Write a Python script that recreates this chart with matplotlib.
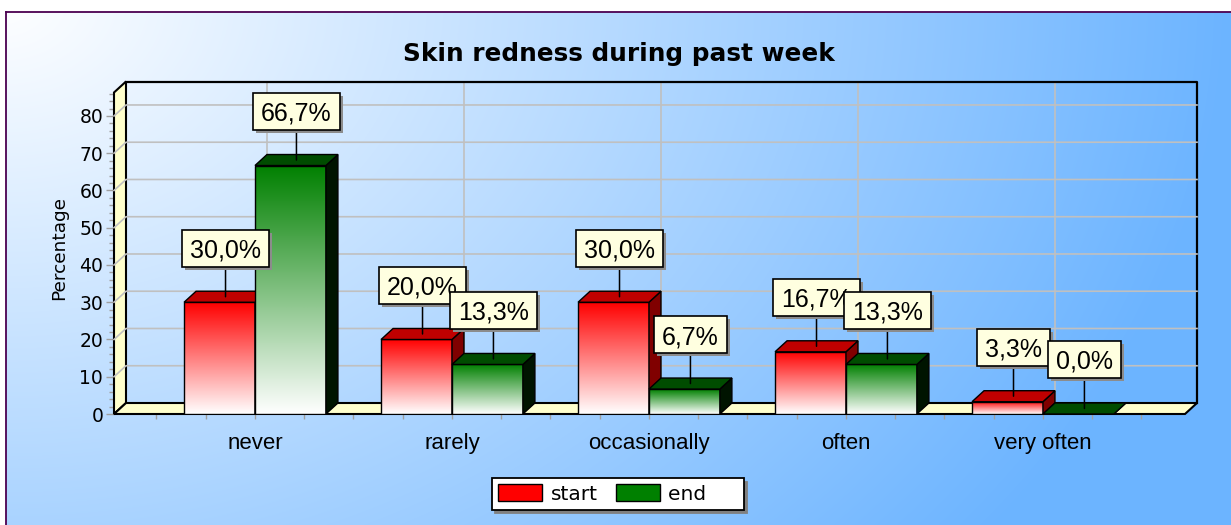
import numpy as np
import matplotlib
matplotlib.use("Agg")
import matplotlib.pyplot as plt
from matplotlib.patches import Polygon, Rectangle, Patch
from matplotlib.lines import Line2D
from matplotlib.path import Path
from matplotlib.transforms import Affine2D
from matplotlib.colors import to_rgb
import matplotlib.patheffects as pe

# ---------------- data ----------------
categories = ["never", "rarely", "occasionally", "often", "very often"]
series_names = ["start", "end"]
start_values = [30.0, 20.0, 30.0, 16.7, 3.3]
end_values = [66.7, 13.3, 6.7, 13.3, 0.0]
y_ticks = [0, 10, 20, 30, 40, 50, 60, 70, 80]
title = "Skin redness during past week"
y_label = "Percentage"

# ---------------- style ----------------
W, H = 1231, 525
front_colors = ["#ff0000", "#008000"]
top_colors = ["#c00000", "#004c00"]
side_colors = ["#800000", "#001400"]
wall_color = "#ffffcc"
grid_color = "#c0c0c0"
tick_color = "#a0a0a0"
label_fill = "#ffffe0"
shadow_col = "#8c8c8c"
narrow = ["Liberation Sans Narrow", "Liberation Sans", "DejaVu Sans"]

fig = plt.figure(figsize=(W / 100, H / 100), dpi=100, facecolor="white")

# background gradient
bg = fig.add_axes([6 / W, 0, (W - 6) / W, (H - 12) / H], zorder=-10)
gx = np.arange(6, W)[None, :]
gy = np.arange(12, H)[:, None]
t = np.clip(np.sqrt((gx / 1230.0) ** 2 + (gy / 900.0) ** 2), 0, 1)
c0 = np.array([1.0, 1.0, 1.0])
c1 = np.array([108, 180, 255]) / 255.0
grad = (1 - t)[..., None] * c0 + t[..., None] * c1
bg.imshow(grad, extent=(0, 1, 0, 1), aspect="auto", origin="upper", interpolation="bilinear")
bg.axis("off")
fig.add_artist(Line2D([6 / W, 6 / W], [0, (H - 12) / H], transform=fig.transFigure, color="#4b0050", lw=1.3))
fig.add_artist(Line2D([6 / W, 1], [(H - 12) / H, (H - 12) / H], transform=fig.transFigure, color="#4b0050", lw=1.3))

# main axes (front plane)
ax_left, ax_right, ax_bottom, ax_top = 114, 1185, 414, 92.5
ax = fig.add_axes([ax_left / W, (H - ax_bottom) / H, (ax_right - ax_left) / W, (ax_bottom - ax_top) / H])
xl, xr = -0.7157, 4.721
yb, yt = 0.0, 86.3
ax.set_xlim(xl, xr)
ax.set_ylim(yb, yt)
ax.set_autoscale_on(False)
ax.patch.set_visible(False)
for s in ax.spines.values():
    s.set_visible(False)

# depth offset (12 px right, 11 px up) in data units
inv = ax.transData.inverted()
p0 = inv.transform((0, 0))
p1 = inv.transform((12, 11))
ddx, ddy = p1[0] - p0[0], p1[1] - p0[1]

# walls and floor
ax.add_patch(Polygon([(xl, 0), (xl + ddx, ddy), (xl + ddx, yt + ddy), (xl, yt)], closed=True,
                     fc=wall_color, ec="black", lw=1.5, zorder=2, clip_on=False))
ax.add_patch(Polygon([(xl, 0), (xr, 0), (xr + ddx, ddy), (xl + ddx, ddy)], closed=True,
                     fc=wall_color, ec="black", lw=1.5, zorder=2, clip_on=False))
ax.plot([xl + ddx, xr + ddx, xr + ddx], [yt + ddy, yt + ddy, ddy], color="black", lw=1.6,
        zorder=2.2, clip_on=False, solid_capstyle="projecting")

# gridlines
for v in y_ticks[1:]:
    ax.plot([xl, xl + ddx, xr + ddx], [v, v + ddy, v + ddy], color=grid_color, lw=1.2, zorder=3, clip_on=False)
for i in range(len(categories)):
    ax.plot([i + ddx, i + ddx], [ddy, yt + ddy], color=grid_color, lw=1.2, zorder=1.5, clip_on=False)

# ticks
ax.set_yticks(y_ticks)
ax.set_yticks(np.arange(0, 87, 2), minor=True)
ax.tick_params(axis="y", which="major", length=5.8, width=1, color=tick_color, labelsize=13.5, pad=2)
ax.tick_params(axis="y", which="minor", length=3.6, width=1, color=tick_color)
ax.set_xticks(range(len(categories)))
ax.set_xticklabels(categories, family=narrow[1:], fontsize=16)
ax.set_xticks(np.arange(-0.5, 4.51, 0.25), minor=True)
ax.tick_params(axis="x", which="both", length=3.6, width=1, color=tick_color, pad=10)
ax.text(-0.0514, 0.516, y_label, transform=ax.transAxes, rotation=90, ha="center", va="center",
        fontsize=13.3)

fig.text(619 / W, 1 - 61 / H, title, ha="center", va="baseline", fontsize=17.8, fontweight="bold")


def label_box(x0, y0, width, height, mutation_size):
    padx, half = 8.0, 18.5
    cy = y0 + height / 2.0 + 2.2
    verts = [(x0 - padx, cy - half), (x0 + width + padx, cy - half),
             (x0 + width + padx, cy + half), (x0 - padx, cy + half), (x0 - padx, cy - half)]
    return Path(verts, closed=True)


bar_w = 0.36
series = [start_values, end_values]
z = 5
lz = 50
label_size = 18
leader_tr = ax.transData + Affine2D().translate(6, 5.5)
box_shadow = [pe.SimplePatchShadow(offset=(2.2, -2.2), shadow_rgbFace=shadow_col, alpha=1.0), pe.Normal()]
for i in range(len(categories)):
    for k in range(2):
        v = series[k][i]
        x0 = i - bar_w if k == 0 else i
        x1 = x0 + bar_w
        col = np.array(to_rgb(front_colors[k]))
        if v > 0:
            tt = np.linspace(0, 1, 256)[:, None]
            arr = ((1 - tt) * np.ones(3) + tt * col).reshape(256, 1, 3)
            ax.imshow(arr, extent=(x0, x1, 0, v), origin="lower", aspect="auto",
                      interpolation="bilinear", zorder=z)
            ax.add_patch(Rectangle((x0, 0), bar_w, v, fill=False, ec="black", lw=1, zorder=z + 0.1))
        ax.add_patch(Polygon([(x1, 0), (x1 + ddx, ddy), (x1 + ddx, v + ddy), (x1, v)], closed=True,
                             fc=side_colors[k], ec="black", lw=1, zorder=z + 0.2, clip_on=False))
        ax.add_patch(Polygon([(x0, v), (x1, v), (x1 + ddx, v + ddy), (x0 + ddx, v + ddy)], closed=True,
                             fc=top_colors[k], ec="black", lw=1, zorder=z + 0.3, clip_on=False))
        z += 1
        txt = f"{v:.1f}".replace(".", ",") + "%"
        xc = (x0 + x1) / 2
        ann = ax.annotate(txt, xy=(xc, v), xycoords=leader_tr, xytext=(0, 46.5), textcoords="offset pixels",
                          ha="center", va="center", fontsize=label_size, family=narrow, color="black",
                          bbox=dict(boxstyle=label_box, fc=label_fill, ec="black", lw=1.2),
                          arrowprops=dict(arrowstyle="-", color="black", lw=1.1, shrinkA=0, shrinkB=0),
                          zorder=lz, annotation_clip=False)
        ann.get_bbox_patch().set_path_effects(box_shadow)
        lz += 1

handles = [Patch(facecolor=front_colors[0], edgecolor="black", lw=1),
           Patch(facecolor=front_colors[1], edgecolor="black", lw=1)]
leg = fig.legend(handles, [series_names[0], series_names[1] + "     "], loc="center",
                 bbox_to_anchor=(618 / W, (H - 494) / H), ncol=2, frameon=True, fancybox=False,
                 edgecolor="black", framealpha=1, facecolor="white", fontsize=14.5,
                 handlelength=2.2, handleheight=0.85, handletextpad=0.4, columnspacing=0.9,
                 borderpad=0.3, borderaxespad=0,
                 shadow={"ox": 2.2, "oy": -2.2, "facecolor": "#808080", "edgecolor": "#808080", "alpha": 1})
leg.get_frame().set_linewidth(1.3)

fig.savefig("out.png", dpi=100)
